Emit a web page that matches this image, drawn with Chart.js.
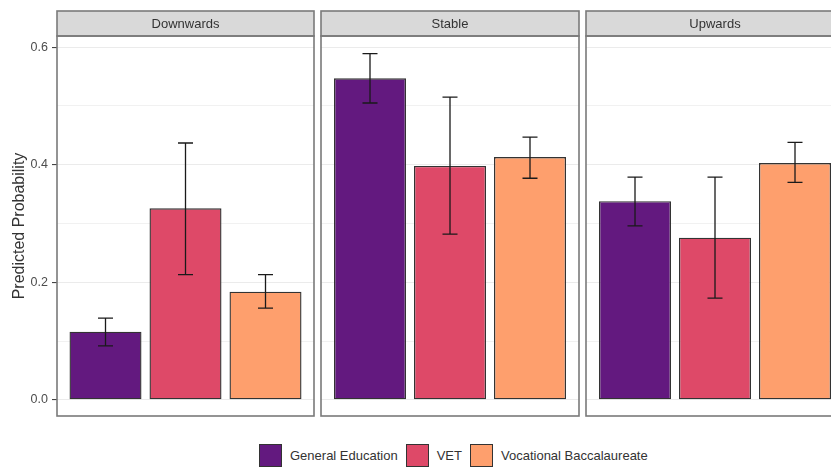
<!DOCTYPE html>
<html lang="en">
<head>
<meta charset="UTF-8">
<title>Predicted Probability</title>
<script src="https://cdn.jsdelivr.net/npm/chart.js@4.4.0/dist/chart.umd.min.js"></script>
<style>
  html, body { margin: 0; background: #fff; overflow: hidden; }
  #wrap { position: relative; width: 831px; height: 468px; overflow: hidden;
          font-family: "Liberation Sans", Arial, sans-serif; }
  canvas { position: absolute; top: 0; }
  #legend { position: absolute; top: 444px; left: 259px; display: flex; align-items: center;
            font-size: 13px; color: #333; white-space: nowrap; }
  .item { display: flex; align-items: center; margin-right: 8px; }
  .key { width: 21px; height: 21px; border: 1px solid #333; margin-right: 8px; }
</style>
</head>
<body>
<div id="wrap">
  <canvas id="panel0"></canvas>
  <canvas id="panel1"></canvas>
  <canvas id="panel2"></canvas>
  <div id="legend"></div>
</div>

<script>
// facets and groups
const facets = ['Downwards', 'Stable', 'Upwards'];
const groups = ['General Education', 'VET', 'Vocational Baccalaureate'];

// predicted probabilities per facet (Downwards, Stable, Upwards)
const generalEducation = [0.116, 0.547, 0.338];
const generalEducationLow = [0.092, 0.505, 0.296];
const generalEducationHigh = [0.139, 0.589, 0.379];

const vet = [0.326, 0.398, 0.276];
const vetLow = [0.213, 0.282, 0.173];
const vetHigh = [0.437, 0.515, 0.379];

const vocBac = [0.184, 0.413, 0.403];
const vocBacLow = [0.156, 0.377, 0.370];
const vocBacHigh = [0.213, 0.447, 0.438];

// y axis ticks
const yTicks = [0, 0.2, 0.4, 0.6];
const yMinorTicks = [0.1, 0.3, 0.5];

const groupColors = ['#63197f', '#de4968', '#fe9f6d'];
const values = [generalEducation, vet, vocBac];
const lows = [generalEducationLow, vetLow, vocBacLow];
const highs = [generalEducationHigh, vetHigh, vocBacHigh];

// panel geometry (left/right edge of each panel in page px); last one runs off the page
const panelEdges = [[57, 314], [321, 579], [586, 844]];
const stripTop = 11, panelTop = 36, panelBottom = 416, canvasH = 430;
const fontFamily = '"Liberation Sans", Arial, sans-serif';

const allTicks = yTicks.concat(yMinorTicks).sort((a, b) => a - b);
const isMajor = v => yTicks.some(t => Math.abs(t - v) < 1e-9);

// strip, border and error bars
const facetPlugin = {
    id: 'facet',
    afterDatasetsDraw(chart) {
        const ctx = chart.ctx;
        const a = chart.chartArea;
        const y = chart.scales.y;
        const f = chart.options.plugins.facet.index;

        // error bars
        ctx.save();
        ctx.strokeStyle = '#1a1a1a';
        ctx.lineWidth = 1.3;
        chart.data.datasets.forEach((ds, di) => {
            const bar = chart.getDatasetMeta(di).data[0];
            const lo = y.getPixelForValue(lows[di][f]);
            const hi = y.getPixelForValue(highs[di][f]);
            ctx.beginPath();
            ctx.moveTo(bar.x, lo); ctx.lineTo(bar.x, hi);
            ctx.moveTo(bar.x - 7.5, lo); ctx.lineTo(bar.x + 7.5, lo);
            ctx.moveTo(bar.x - 7.5, hi); ctx.lineTo(bar.x + 7.5, hi);
            ctx.stroke();
        });

        // strip
        ctx.fillStyle = '#d9d9d9';
        ctx.fillRect(a.left, stripTop, a.right - a.left, a.top - stripTop);
        ctx.strokeStyle = '#7a7a7a';
        ctx.lineWidth = 1.6;
        ctx.strokeRect(a.left, stripTop, a.right - a.left, a.top - stripTop);
        ctx.fillStyle = '#333';
        ctx.font = '13px ' + fontFamily;
        ctx.textAlign = 'center';
        ctx.textBaseline = 'middle';
        ctx.fillText(facets[f], (a.left + a.right) / 2, (stripTop + a.top) / 2 + 0.5);

        // panel border
        ctx.strokeRect(a.left, a.top, a.right - a.left, a.bottom - a.top);
        ctx.restore();
    }
};

function makePanel(f) {
    const [L, R] = panelEdges[f];
    const withAxis = f === 0;
    const canvasLeft = withAxis ? 0 : L - 3;
    const padLeft = withAxis ? 0 : 3;
    const padRight = f === 2 ? 40 : 3;
    const canvas = document.getElementById('panel' + f);
    canvas.width = R + padRight - canvasLeft;
    canvas.height = canvasH;
    canvas.style.left = canvasLeft + 'px';
    canvas.style.width = canvas.width + 'px';
    canvas.style.height = canvasH + 'px';

    new Chart(canvas, {
        type: 'bar',
        data: {
            labels: [facets[f]],
            datasets: groups.map((g, i) => ({
                label: g,
                data: [values[i][f]],
                backgroundColor: groupColors[i],
                borderColor: '#333',
                borderWidth: 1.4,
                borderSkipped: false,
                categoryPercentage: 240 / (R - L),
                barPercentage: 0.9
            }))
        },
        options: {
            responsive: false,
            animation: false,
            devicePixelRatio: 1,
            layout: { padding: { left: padLeft, right: padRight, top: panelTop, bottom: canvasH - panelBottom } },
            plugins: {
                legend: { display: false },
                tooltip: { enabled: false },
                facet: { index: f }
            },
            scales: {
                x: { display: false },
                y: {
                    min: -0.0274,
                    max: 0.619,
                    afterBuildTicks: s => { s.ticks = allTicks.map(v => ({ value: v })); },
                    afterFit: s => { s.width = withAxis ? 57 : 0; },
                    border: { display: false },
                    grid: {
                        color: '#ebebeb',
                        lineWidth: c => isMajor(c.tick.value) ? 1.1 : 0.7,
                        drawTicks: withAxis,
                        tickLength: 5,
                        tickColor: c => isMajor(c.tick.value) ? '#444' : 'rgba(0,0,0,0)'
                    },
                    ticks: {
                        display: withAxis,
                        padding: 4,
                        color: '#4d4d4d',
                        font: { family: fontFamily, size: 12.5 },
                        callback: v => isMajor(v) ? Number(v).toFixed(1) : ''
                    },
                    title: {
                        display: withAxis,
                        text: 'Predicted Probability',
                        color: '#333',
                        padding: { top: 10, bottom: 0 },
                        font: { family: fontFamily, size: 16 }
                    }
                }
            }
        },
        plugins: [facetPlugin]
    });
}

facets.forEach((name, f) => makePanel(f));

// legend
const legend = document.getElementById('legend');
groups.forEach((g, i) => {
    const item = document.createElement('div');
    item.className = 'item';
    const key = document.createElement('div');
    key.className = 'key';
    key.style.background = groupColors[i];
    const label = document.createElement('span');
    label.textContent = g;
    item.appendChild(key);
    item.appendChild(label);
    legend.appendChild(item);
});
</script>
</body>
</html>
